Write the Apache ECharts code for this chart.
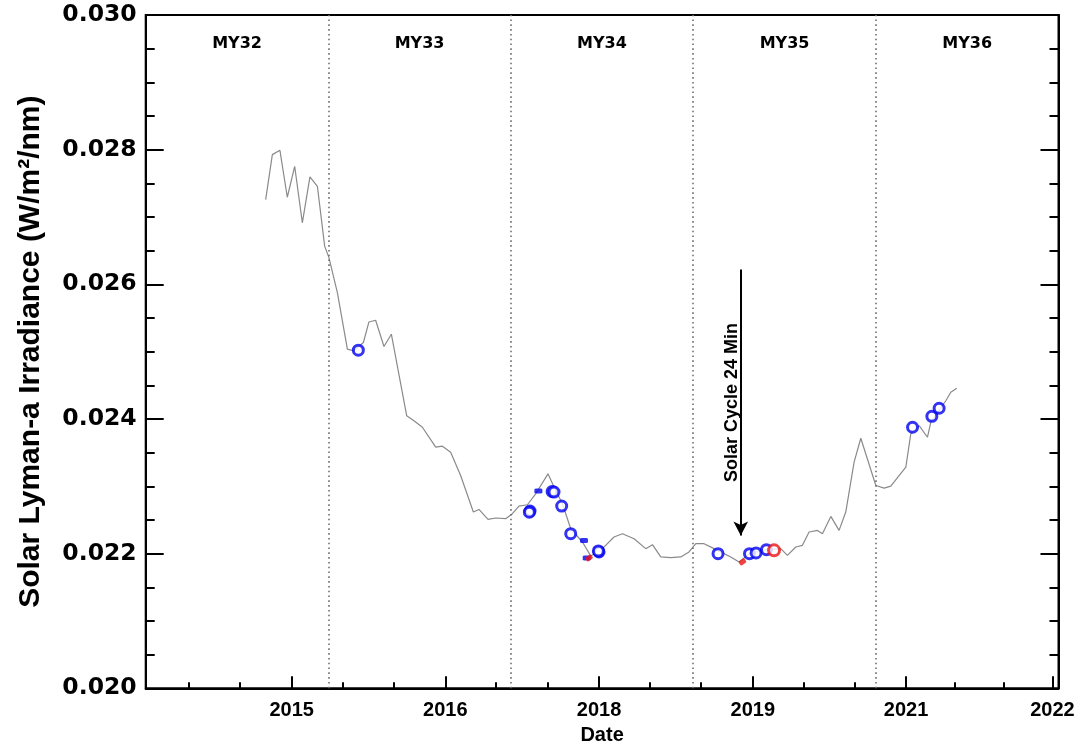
<!DOCTYPE html>
<html>
<head>
<meta charset="utf-8">
<script src="https://cdn.jsdelivr.net/npm/echarts@6/dist/echarts.min.js"></script>
<style>
  html, body { margin: 0; padding: 0; background: #fff; }
  #chart { width: 1088px; height: 741px; }
</style>
</head>
<body>
<div id="chart"></div>
<script>
// ---- Data (decimal year, W/m^2/nm) ----
const lineX = [2014.815, 2014.884, 2014.962, 2015.038, 2015.114, 2015.193, 2015.271, 2015.348, 2015.423, 2015.467,
  2015.554, 2015.657, 2015.725, 2015.822, 2015.879, 2015.948, 2016.034, 2016.110, 2016.268, 2016.343,
  2016.430, 2016.567, 2016.636, 2016.721, 2016.824, 2016.955, 2017.013, 2017.106, 2017.185, 2017.288,
  2017.357, 2017.425, 2017.512, 2017.597, 2017.724, 2017.786, 2017.873, 2017.958, 2018.079, 2018.164,
  2018.285, 2018.404, 2018.491, 2018.611, 2018.731, 2018.800, 2018.886, 2018.989, 2019.092, 2019.177,
  2019.247, 2019.332, 2019.435, 2019.607, 2019.693, 2019.800, 2019.975, 2020.122, 2020.191, 2020.277,
  2020.346, 2020.414, 2020.501, 2020.552, 2020.638, 2020.723, 2020.792, 2020.878, 2020.947, 2021.102,
  2021.187, 2021.256, 2021.411, 2021.462, 2021.548, 2021.634, 2021.668, 2021.823, 2021.874, 2021.936];
const lineY = [0.027259, 0.027926, 0.027990, 0.027293, 0.027753, 0.026914, 0.027596, 0.027456, 0.026567, 0.026396,
  0.025877, 0.025037, 0.025012, 0.025136, 0.025441, 0.025467, 0.025077, 0.025259, 0.024049, 0.023975,
  0.023877, 0.023581, 0.023596, 0.023507, 0.023160, 0.022618, 0.022656, 0.022508, 0.022529, 0.022519,
  0.022593, 0.022707, 0.022726, 0.022889, 0.023185, 0.022988, 0.022741, 0.022370, 0.022173, 0.021966,
  0.022074, 0.022247, 0.022296, 0.022222, 0.022074, 0.022133, 0.021951, 0.021941, 0.021951, 0.022025,
  0.022148, 0.022148, 0.022074, 0.021951, 0.021877, 0.022000, 0.022059, 0.022074, 0.021975, 0.022099,
  0.022123, 0.022321, 0.022345, 0.022296, 0.022553, 0.022345, 0.022618, 0.023359, 0.023714, 0.023012,
  0.022973, 0.023003, 0.023284, 0.023778, 0.023901, 0.023729, 0.023951, 0.024271, 0.024396, 0.024455];

const blueCircleX = [2015.770, 2017.539, 2017.532, 2017.766, 2017.786, 2017.865, 2017.958, 2018.250, 2018.243,
  2019.476, 2019.800, 2019.868, 2019.975, 2021.480, 2021.679, 2021.754];
const blueCircleY = [0.025022, 0.022633, 0.022615, 0.022923, 0.022915, 0.022707, 0.022296, 0.022025, 0.022040,
  0.022000, 0.022000, 0.022010, 0.022059, 0.023877, 0.024040, 0.024159];

const blueDotX = [2017.625, 2018.095, 2018.123];
const blueDotY = [0.022929, 0.022197, 0.021936];

const redDotX = [2018.147, 2019.728];
const redDotY = [0.021936, 0.021877];

const redCircleX = [2020.053];
const redCircleY = [0.022049];

// Mars year boundaries and names
const marsYearStarts = [2013.579, 2015.461, 2017.340, 2019.221, 2021.101, 2022.984];
const marsYearNames = ['MY32', 'MY33', 'MY34', 'MY35', 'MY36'];

// Solar cycle 24 minimum marker
const minDate = 2019.71;
const arrowTop = 0.02622;
const arrowBottom = 0.02227;
const arrowText = 'Solar Cycle 24 Min';

// Axis ticks
const majorTickValues = [2015.083, 2016.666, 2018.250, 2019.834, 2021.413, 2022.921];
const majorTickLabels = ['2015', '2016', '2018', '2019', '2021', '2022'];
const minorTickValues = [2014.025, 2014.551, 2015.609, 2016.138, 2017.189, 2017.721, 2018.775,
  2019.301, 2020.359, 2020.888, 2021.918, 2022.416];

const zip = (xs, ys) => xs.map((x, i) => [x, ys[i]]);

// ---- Chart ----
const chart = echarts.init(document.getElementById('chart'), null, { renderer: 'canvas' });

const blue = '#0000f0';
const red = '#ee1111';
const labelFont = 'Liberation Sans';
const tickFont = 'DejaVu Sans';

const myAreas = marsYearNames.map((n, i) => [
  { xAxis: marsYearStarts[i], name: n },
  { xAxis: marsYearStarts[i + 1] }
]);
const myLines = marsYearStarts.slice(1, -1).map(v => ({
  xAxis: v,
  symbol: 'none',
  lineStyle: { color: '#6e6e6e', type: [1.6, 3.2], width: 1.6 },
  label: { show: false }
}));

const option = {
  animation: false,
  backgroundColor: '#fff',
  grid: {
    left: 145.7, right: 29.5, top: 15, bottom: 52.7,
    outerBoundsMode: 'none', containLabel: false,
    show: true, borderColor: '#000', borderWidth: 2, backgroundColor: 'transparent'
  },
  xAxis: [
    {
      type: 'value', min: marsYearStarts[0], max: marsYearStarts[5], position: 'bottom',
      name: 'Date', nameLocation: 'middle', nameGap: 33,
      nameTextStyle: { fontFamily: labelFont, fontWeight: 'bold', fontSize: 20, color: '#000' },
      axisLine: { show: true, onZero: false, lineStyle: { color: '#000', width: 2 } },
      axisTick: { show: true, inside: true, length: 12, customValues: majorTickValues, lineStyle: { color: '#000', width: 2 } },
      axisLabel: {
        show: true, margin: 12, customValues: majorTickValues,
        formatter: (v) => { const i = majorTickValues.findIndex(t => Math.abs(t - v) < 1e-6); return i >= 0 ? majorTickLabels[i] : ''; },
        fontFamily: labelFont, fontWeight: 'bold', fontSize: 20, color: '#000'
      },
      splitLine: { show: false }
    },
    {
      type: 'value', min: marsYearStarts[0], max: marsYearStarts[5], position: 'bottom', offset: 0,
      axisLine: { show: false },
      axisTick: { show: true, inside: true, length: 6, customValues: minorTickValues, lineStyle: { color: '#000', width: 2 } },
      axisLabel: { show: false, customValues: minorTickValues },
      splitLine: { show: false }
    }
  ],
  yAxis: [
    {
      type: 'value', min: 0.020, max: 0.030, interval: 0.002, position: 'left',
      name: 'Solar Lyman-a Irradiance (W/m²/nm)', nameLocation: 'middle', nameGap: 100, nameRotate: 90,
      nameTextStyle: { fontFamily: labelFont, fontWeight: 'bold', fontSize: 30, color: '#000' },
      axisLine: { show: true, onZero: false, lineStyle: { color: '#000', width: 2 } },
      axisTick: { show: true, inside: true, length: 18, lineStyle: { color: '#000', width: 2 } },
      minorTick: { show: true, splitNumber: 4, length: 9, lineStyle: { color: '#000', width: 2 } },
      axisLabel: {
        show: true, margin: 9, formatter: (v) => v.toFixed(3),
        fontFamily: tickFont, fontWeight: 'bold', fontSize: 23.5, color: '#000'
      },
      splitLine: { show: false }
    },
    {
      type: 'value', min: 0.020, max: 0.030, interval: 0.002, position: 'right',
      axisLine: { show: true, onZero: false, lineStyle: { color: '#000', width: 2 } },
      axisTick: { show: true, inside: true, length: 18, lineStyle: { color: '#000', width: 2 } },
      minorTick: { show: true, splitNumber: 4, length: 9, lineStyle: { color: '#000', width: 2 } },
      axisLabel: { show: false },
      splitLine: { show: false }
    }
  ],
  series: [
    {
      name: 'irradiance', type: 'line', data: zip(lineX, lineY), showSymbol: false,
      lineStyle: { color: '#8a8a8a', width: 1.2 }, z: 2,
      markArea: {
        silent: true,
        itemStyle: { color: 'rgba(0,0,0,0)' },
        label: { show: true, position: 'insideTop', distance: 21, color: '#000', fontFamily: tickFont, fontWeight: 'bold', fontSize: 16 },
        data: myAreas
      },
      markLine: {
        silent: true,
        animation: false,
        symbol: ['none', 'none'],
        data: myLines.concat([[
          { coord: [minDate, arrowBottom], symbol: 'arrow' },
          { coord: [minDate, arrowTop], symbol: 'none' }
        ]]),
        symbolSize: [11, 14],
        lineStyle: { color: '#000', width: 2, type: 'solid' },
        label: {
          show: true, position: 'middle', formatter: arrowText, distance: 0,
          fontFamily: labelFont, fontWeight: 'bold', fontSize: 18, color: '#000'
        }
      }
    },
    {
      name: 'blue', type: 'scatter', data: zip(blueCircleX, blueCircleY),
      symbol: 'circle', symbolSize: 10,
      itemStyle: { color: '#fff', borderColor: blue, borderWidth: 3 }, z: 4
    },
    {
      name: 'blueDots', type: 'scatter', data: zip(blueDotX, blueDotY),
      symbol: 'roundRect', symbolSize: [8, 5],
      itemStyle: { color: blue }, z: 4
    },
    {
      name: 'redDots', type: 'scatter', data: zip(redDotX, redDotY),
      symbol: 'roundRect', symbolSize: [7, 5], symbolRotate: 35,
      itemStyle: { color: red }, z: 5
    },
    {
      name: 'redCircle', type: 'scatter', data: zip(redCircleX, redCircleY),
      symbol: 'circle', symbolSize: 11,
      itemStyle: { color: '#fff', borderColor: red, borderWidth: 3 }, z: 5
    }
  ]
};
chart.setOption(option);
</script>
</body>
</html>
